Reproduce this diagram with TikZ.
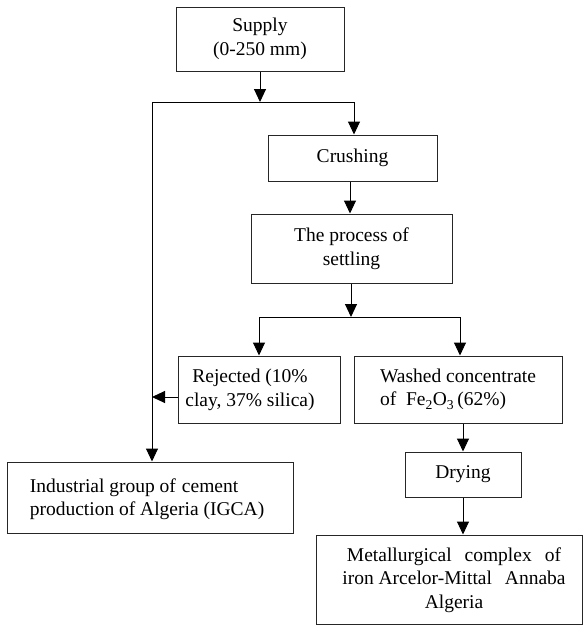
\documentclass[tikz,border=0pt]{standalone}
\usepackage{fontspec}
\setmainfont{Liberation Serif}
\usetikzlibrary{arrows.meta}
\begin{document}
\begin{tikzpicture}[x=1pt,y=-1pt,
  box/.style={draw=black!85, line width=1pt, rectangle, inner sep=0pt,
    font=\fontsize{19.5}{23.5}\selectfont},
  txt/.style={inner sep=0pt, font=\fontsize{19.5}{23.5}\selectfont},
  link/.style={draw=black, line width=1pt},
  arr/.style={link, -{Triangle[length=13pt,width=12pt]}}]
\useasboundingbox (0,0) rectangle (584,625);
% boxes
\node[box, minimum width=168, minimum height=64, align=center] (supply) at (260,39) {Supply\\(0-250 mm)};
\node[box, minimum width=169, minimum height=46] (crush) at (352.5,158) {Crushing};
\node[box, minimum width=201, minimum height=69, align=center] (settle) at (351.5,248.5) {The process of\\settling};
\node[box, minimum width=162, minimum height=67] (rej) at (259,389.5) {};
\node[txt, align=center] (rejtxt) at (250,390) {Rejected (10\%\\clay, 37\% silica)};
\node[box, minimum width=208, minimum height=67, align=left] (wash) at (458,389.5) {Washed concentrate\\of~ Fe\textsubscript{2}O\textsubscript{3}\,(62\%)};
\node[box, minimum width=116, minimum height=45] (dry) at (463,474.5) {Drying};
\node[box, minimum width=266, minimum height=89] (metal) at (449.5,579.5) {};
\node[txt, align=center] (metaltxt) at (454,580) {Metallurgical\hspace{13pt}complex\hspace{13pt}of\\iron Arcelor-Mittal\hspace{13pt}Annaba\\Algeria};
\node[box, minimum width=286, minimum height=71] (igca) at (150,497.5) {};
\node[txt, align=left] (igcatxt) at (147,499) {Industrial group of\hspace{6pt}cement\\production of Algeria (IGCA)};
% junctions
\coordinate (j1) at (260,102);
\coordinate (jl) at (152,102);
\coordinate (jr) at (354,102);
\coordinate (j2) at (351,317);
\coordinate (j2l) at (259,317);
\coordinate (j2r) at (460,317);
\coordinate (jrej) at (152,397);
% connectors
\draw[arr] (supply.south -| j1) -- (j1);
\draw[link] (jl) -- (jr);
\draw[arr] (jr) -- (jr |- crush.north);
\draw[arr] (jl) -- (jl |- igca.north);
\draw[arr] (crush.south -| 350,0) -- (settle.north -| 350,0);
\draw[arr] (settle.south -| j2) -- (j2);
\draw[link] (j2l) -- (j2r);
\draw[arr] (j2l) -- (j2l |- rej.north);
\draw[arr] (j2r) -- (j2r |- wash.north);
\draw[arr] (rej.west |- jrej) -- (jrej);
\draw[arr] (wash.south -| 463,0) -- (dry.north -| 463,0);
\draw[arr] (dry.south -| 463,0) -- (metal.north -| 463,0);
\end{tikzpicture}
\end{document}
